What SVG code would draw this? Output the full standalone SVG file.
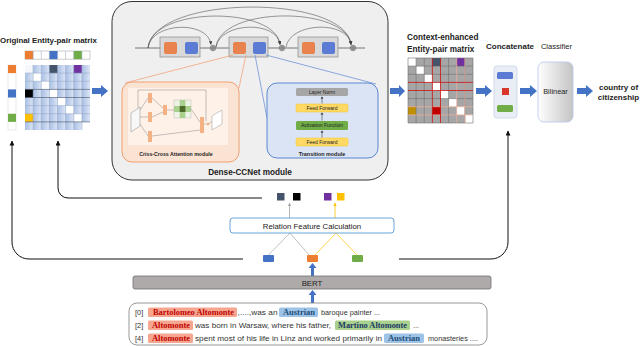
<svg xmlns="http://www.w3.org/2000/svg" width="640" height="346" viewBox="0 0 640 346">
<defs>
<style>
.t{font-family:"Liberation Sans",Arial,sans-serif;fill:#222}
.b{font-weight:bold}
.hl{font-family:"Liberation Serif","Times New Roman",serif;font-weight:bold;font-size:7.8px}
.txt{font-family:"Liberation Sans",Arial,sans-serif;font-size:7.4px;fill:#333}
.ba{fill:#4472c4}
.thin{fill:none;stroke:#111;stroke-width:1}
.arc{fill:none;stroke:#555;stroke-width:0.6}
.cell{fill:none;stroke:#8ea3c4;stroke-width:0.5}
.or{fill:#e8834f}
.bl{fill:#5b7bd5}
.blk{fill:#d9d9d9;stroke:#8a8a8a;stroke-width:0.7}
.ob{fill:#f4b183}
.mini{stroke:#888;stroke-width:0.5;fill:none}
</style>
<marker id="ah" viewBox="0 0 10 10" refX="9" refY="5" markerWidth="5" markerHeight="5" orient="auto"><path d="M0,0 L10,5 L0,10z" fill="#111"/></marker>
<marker id="ahs" viewBox="0 0 10 10" refX="9" refY="5" markerWidth="6" markerHeight="6" orient="auto"><path d="M0,0 L10,5 L0,10z" fill="#444"/></marker>
<marker id="ahg" viewBox="0 0 10 10" refX="9" refY="5" markerWidth="4" markerHeight="4" orient="auto"><path d="M0,0 L10,5 L0,10z" fill="#a6a6a6"/></marker>
<marker id="ahy" viewBox="0 0 10 10" refX="9" refY="5" markerWidth="4" markerHeight="4" orient="auto"><path d="M0,0 L10,5 L0,10z" fill="#ffc000"/></marker>
<linearGradient id="colg" x1="0" y1="0" x2="1" y2="0"><stop offset="0" stop-color="#a9bfe4"/><stop offset="1" stop-color="#dbe5f5"/></linearGradient>
<pattern id="cols" x="25" y="0" width="8.125" height="10" patternUnits="userSpaceOnUse"><rect width="8.125" height="10" fill="url(#colg)"/></pattern>
<linearGradient id="bil" x1="0" y1="0" x2="1" y2="0"><stop offset="0" stop-color="#ffffff"/><stop offset="1" stop-color="#c4c4c4"/></linearGradient>
</defs>
<rect width="640" height="346" fill="#fff"/>

<g id="original-matrix">
<text class="t b" x="0" y="43" font-size="7.9">Original Entity-pair matrix</text>
<g id="top-row">
<rect x="25" y="51" width="65" height="8.125" fill="#fff" stroke="#9a9a9a" stroke-width="0.5"/>
<rect x="25" y="51" width="8.125" height="8.125" fill="#ed7d31"/>
<rect x="49.4" y="51" width="8.125" height="8.125" fill="#4472c4"/>
<rect x="73.75" y="51" width="8.125" height="8.125" fill="#70ad47"/>
<path class="cell" stroke="#aaa" d="M33.1,51V59.1M41.25,51V59.1M49.4,51V59.1M57.5,51V59.1M65.6,51V59.1M73.75,51V59.1M81.9,51V59.1"/>
</g>
<g id="left-col">
<rect x="8" y="65" width="8" height="65" fill="#fff" stroke="#c8c8c8" stroke-width="0.4"/>
<rect x="8" y="65" width="8" height="8.125" fill="#ed7d31"/>
<rect x="8" y="89.4" width="8" height="8.125" fill="#4472c4"/>
<rect x="8" y="113.75" width="8" height="8.125" fill="#70ad47"/>
</g>
<g id="matrix">
<rect x="25" y="65" width="65" height="65" fill="url(#cols)"/>
<rect x="25" y="65" width="8.125" height="8.125" fill="#f4f7fc"/>
<rect x="33.1" y="73.1" width="8.125" height="8.125" fill="#fff"/>
<rect x="41.25" y="81.25" width="8.125" height="8.125" fill="#fff"/>
<rect x="49.4" y="89.4" width="8.125" height="8.125" fill="#fff"/>
<rect x="57.5" y="97.5" width="8.125" height="8.125" fill="#fff"/>
<rect x="65.6" y="105.6" width="8.125" height="8.125" fill="#fff"/>
<rect x="73.75" y="113.75" width="8.125" height="8.125" fill="#fff"/>
<rect x="81.9" y="121.9" width="8.125" height="8.125" fill="#fff"/>
<rect x="49.4" y="65" width="8.125" height="8.125" fill="#44546a"/>
<rect x="73.75" y="65" width="8.125" height="8.125" fill="#7030a0"/>
<rect x="25" y="89.4" width="8.125" height="8.125" fill="#000"/>
<rect x="25" y="113.75" width="8.125" height="8.125" fill="#ffc000"/>
<path class="cell" d="M33.1,65V130M41.25,65V130M49.4,65V130M57.5,65V130M65.6,65V130M73.75,65V130M81.9,65V130M25,73.1H90M25,81.25H90M25,105.6H90M25,113.75H90"/>
<path fill="none" stroke="#44546a" stroke-width="0.6" d="M25,89.4H90M25,97.5H90M25,121.9H90"/>
</g>
</g>

<g id="connectors">
<polygon class="ba" points="92,88 101,88 101,85 108,91 101,97 101,94 92,94"/>
<polygon class="ba" points="390,88 399,88 399,85 405,91 399,97 399,94 390,94"/>
<polygon class="ba" points="476,88 485,88 485,85 492,91 485,97 485,94 476,94"/>
<polygon class="ba" points="520,88 530,88 530,85 537,91 530,97 530,94 520,94"/>
<polygon class="ba" points="577,88 586,88 586,85 593,91 586,97 586,94 577,94"/>
<polygon class="ba" points="311,276 311,268 308.5,268 312.5,263 316.5,268 314,268 314,276"/>
<polygon class="ba" points="311,303 311,295 308.5,295 312.5,290 316.5,295 314,295 314,303"/>
<path class="thin" d="M243,259H29A17,17 0 0 1 12,242V141" marker-end="url(#ah)"/>
<path class="thin" d="M399,259H491A17,17 0 0 0 508,242V131" marker-end="url(#ah)"/>
<path class="thin" d="M262,198H68A10,10 0 0 1 58,188V141" marker-end="url(#ah)"/>
<path fill="none" stroke="#a6a6a6" stroke-width="0.8" d="M289.5,218V203" marker-end="url(#ahg)"/>
<path fill="none" stroke="#ffc000" stroke-width="0.8" d="M335,218V203" marker-end="url(#ahy)"/>
<path fill="none" stroke="#a6a6a6" stroke-width="0.7" d="M268.5,255L290,233L309,255"/>
<path fill="none" stroke="#ffc000" stroke-width="0.7" d="M315,255L336,233L357,255"/>
</g>

<g id="dense-ccnet">
<rect x="112" y="1.5" width="276" height="178.5" rx="20" fill="#efefef" stroke="#333" stroke-width="1"/>
<path d="M135,48H365" stroke="#555" stroke-width="0.8"/>
<path class="arc" d="M148,48C151,22 208,20 211,44.5" marker-end="url(#ahs)"/>
<path class="arc" d="M148,48C152,6 276,6 280,44.5" marker-end="url(#ahs)"/>
<path class="arc" d="M148,48C154,-6 346,-6 351,44.5" marker-end="url(#ahs)"/>
<path class="arc" d="M216,47C220,22 277,20 280,44.5" marker-end="url(#ahs)"/>
<path class="arc" d="M216,47C221,6 346,6 351,44.5" marker-end="url(#ahs)"/>
<path class="arc" d="M286,47C290,22 348,20 351,44.5" marker-end="url(#ahs)"/>
<g id="block1"><rect class="blk" x="160" y="37" width="40" height="20"/><rect class="or" x="164" y="42" width="13" height="12" rx="2"/><rect class="bl" x="185" y="42" width="13" height="12" rx="2"/></g>
<g id="block2"><rect class="blk" x="229" y="37" width="39" height="20"/><rect class="or" x="233" y="42" width="13" height="12" rx="2"/><rect class="bl" x="253" y="42" width="13" height="12" rx="2"/></g>
<g id="block3"><rect class="blk" x="298" y="37" width="40" height="20"/><rect class="or" x="302" y="42" width="13" height="12" rx="2"/><rect class="bl" x="322" y="42" width="13" height="12" rx="2"/></g>
<g fill="#aaa" stroke="#555" stroke-width="0.5">
<circle cx="213" cy="48" r="2.8"/><circle cx="282" cy="48" r="2.8"/><circle cx="353" cy="48" r="2.8"/>
</g>
<path stroke="#555" stroke-width="0.5" d="M211,48h4M213,46v4M280,48h4M282,46v4M351,48h4M353,46v4"/>
<path fill="none" stroke="#f4a47a" stroke-width="0.8" d="M233,55L125,83M246,55L239,88"/>
<path fill="none" stroke="#6f93d8" stroke-width="0.8" d="M255,55L267,118M266,55L376,84"/>
<g id="cca-module">
<rect x="122" y="82" width="117" height="80" rx="10" fill="#fbe3d3" stroke="#f0a070" stroke-width="1"/>
<rect x="128" y="88" width="100" height="57" fill="#fdf1e8"/>
<path class="mini" d="M138,108V90H206V121"/>
<polygon points="131,113 140,107 140,126 131,132" fill="#f7f7f7" stroke="#888" stroke-width="0.5"/>
<path class="mini" d="M140,110L148,98M140,117H148M140,124L148,136M152,98L163,108M152,117L163,112M167,110H174M191,109L200,122M152,136L200,130M204,124H207M209,124L212,121"/>
<rect class="ob" x="148" y="93" width="4" height="10"/>
<rect class="ob" x="148" y="112" width="4" height="10"/>
<rect class="ob" x="148" y="131" width="4" height="11"/>
<rect class="ob" x="163" y="105" width="4" height="10"/>
<rect class="ob" x="200" y="117" width="4" height="16"/>
<circle cx="208" cy="124" r="1.3" fill="#f4b183"/>
<rect x="174" y="100" width="17" height="18" fill="#eef3e8" stroke="#999" stroke-width="0.3"/>
<rect x="179.7" y="100" width="5.7" height="18" fill="#a9d18e"/>
<rect x="174" y="106" width="17" height="6" fill="#a9d18e"/>
<rect x="179.7" y="106" width="5.7" height="6" fill="#4e6b2a"/>
<polygon points="212,116 222,110 222,124 212,130" fill="#fff" stroke="#999" stroke-width="0.5"/>
<text class="t b" x="176" y="156" font-size="5.2" text-anchor="middle" fill="#444">Criss-Cross Attention module</text>
</g>
<g id="transition-module">
<rect x="267" y="83" width="111" height="75" rx="10" fill="#dbe4f4" stroke="#5b87d0" stroke-width="1"/>
<rect x="296" y="88" width="52" height="8" rx="1.5" fill="#a6a6a6"/>
<text class="t" x="322" y="93.8" font-size="5" text-anchor="middle">Layer Norm</text>
<rect x="296" y="104" width="52" height="8" rx="1.5" fill="#ffd966" stroke="#f2c200" stroke-width="0.4"/>
<text class="t" x="322" y="109.8" font-size="5" text-anchor="middle">Feed Forward</text>
<rect x="296" y="121" width="52" height="9" rx="1.5" fill="#70ad47"/>
<text class="t" x="322" y="127.3" font-size="5" text-anchor="middle">Activation Function</text>
<rect x="296" y="138" width="52" height="8" rx="1.5" fill="#ffd966" stroke="#f2c200" stroke-width="0.4"/>
<text class="t" x="322" y="143.8" font-size="5" text-anchor="middle">Feed Forward</text>
<path stroke="#222" stroke-width="0.5" d="M322,103.5V98M322,120.5V114M322,137.5V132"/>
<path fill="#222" d="M320.6,98.5L322,96.5L323.4,98.5zM320.6,114.5L322,112.5L323.4,114.5zM320.6,132.5L322,130.5L323.4,132.5z"/>
<text class="t b" x="322" y="156" font-size="5.4" text-anchor="middle">Transition module</text>
</g>
<text class="t b" x="250" y="175" font-size="8.2" text-anchor="middle">Dense-CCNet module</text>
</g>

<g id="context-matrix">
<text class="t b" x="407" y="40" font-size="8.2">Context-enhanced</text>
<text class="t b" x="407" y="51.5" font-size="8.2">Entity-pair matrix</text>
<rect x="408" y="58" width="65" height="65" fill="#a6a6a6"/>
<rect x="408" y="58" width="8.125" height="8.125" fill="#fff"/>
<rect x="416.1" y="66.1" width="8.125" height="8.125" fill="#fff"/>
<rect x="424.25" y="74.25" width="8.125" height="8.125" fill="#fff"/>
<rect x="432.4" y="82.4" width="8.125" height="8.125" fill="#fff"/>
<rect x="440.5" y="90.5" width="8.125" height="8.125" fill="#fff"/>
<rect x="448.6" y="98.6" width="8.125" height="8.125" fill="#fff"/>
<rect x="456.75" y="106.75" width="8.125" height="8.125" fill="#fff"/>
<rect x="464.9" y="114.9" width="8.125" height="8.125" fill="#fff"/>
<rect x="432.4" y="58" width="8.125" height="8.125" fill="#44546a"/>
<rect x="456.75" y="58" width="8.125" height="8.125" fill="#7030a0"/>
<rect x="408" y="106.75" width="8.125" height="8.125" fill="#bf9000"/>
<rect x="432.4" y="106.75" width="8.125" height="8.125" fill="#c00000"/>
<path fill="none" stroke="#6f6f6f" stroke-width="0.6" d="M416.1,58V123M424.25,58V123M448.6,58V123M464.9,58V123M408,66.1H473M408,74.25H473M408,98.6H473M408,123H473M408,58H473M408,58V123M473,58V123"/>
<path fill="none" stroke="#f4b0a0" stroke-width="0.7" d="M456.75,58V123M464.9,58V123M408,106.75H473M408,114.9H473"/>
<path fill="none" stroke="#d01010" stroke-width="0.8" d="M432.4,58V123M440.5,58V123M408,82.4H473M408,90.5H473"/>
</g>

<g id="concatenate">
<text class="t b" x="510" y="49" font-size="8" text-anchor="middle">Concatenate</text>
<rect x="494" y="66" width="23" height="52" rx="3" fill="#e9edf4" stroke="#c5d3ea" stroke-width="0.8"/>
<rect x="497" y="72" width="16" height="7" rx="1.5" fill="#5b7bd5"/>
<rect x="502" y="88" width="7" height="7" fill="#d9362b"/>
<rect x="497" y="105" width="16" height="7" rx="1.5" fill="#70ad47"/>
</g>

<g id="classifier">
<text class="t" x="556.5" y="49" font-size="7.6" text-anchor="middle">Classifier</text>
<rect x="538" y="62" width="35" height="60" rx="6" fill="url(#bil)" stroke="#b4c7e7" stroke-width="0.8"/>
<text class="t" x="555.5" y="94" font-size="7.4" text-anchor="middle">Bilinear</text>
</g>

<g id="output">
<text class="t b" x="618.5" y="90" font-size="8" text-anchor="middle">country of</text>
<text class="t b" x="618.5" y="100" font-size="8" text-anchor="middle">citizenship</text>
</g>

<g id="relation-features">
<rect x="277" y="193" width="7.5" height="7.5" fill="#44546a"/>
<rect x="293" y="193" width="7.5" height="7.5" fill="#000"/>
<rect x="324" y="193" width="7.5" height="7.5" fill="#7030a0"/>
<rect x="337" y="193" width="7.5" height="7.5" fill="#ffc000"/>
</g>

<g id="relation-feature-calculation">
<rect x="230" y="218" width="164" height="15" rx="3" fill="#fff" stroke="#5b9bd5" stroke-width="0.9"/>
<text class="t" x="312" y="228.5" font-size="7.8" text-anchor="middle">Relation Feature Calculation</text>
</g>

<g id="entity-embeddings">
<rect x="263" y="255" width="11" height="7" rx="1" fill="#4472c4"/>
<rect x="307" y="255" width="11" height="7" rx="1" fill="#ed7d31"/>
<rect x="352" y="255" width="11" height="7" rx="1" fill="#70ad47"/>
</g>

<g id="bert">
<rect x="133" y="276" width="358" height="13" rx="2" fill="#aeaaaa" stroke="#6f6f6f" stroke-width="0.8"/>
<text class="t" x="312" y="285.5" font-size="7.8" text-anchor="middle">BERT</text>
</g>

<g id="document">
<rect x="129" y="303" width="358" height="42" rx="8" fill="#fff" stroke="#7f7f7f" stroke-width="0.8"/>
<rect x="148" y="307.5" width="89" height="9.5" rx="1.5" fill="#f6a68f"/>
<rect x="279" y="307.5" width="39" height="9.5" rx="1.5" fill="#9dc3e6"/>
<rect x="148" y="320.5" width="45" height="9.5" rx="1.5" fill="#f6a68f"/>
<rect x="335" y="320.5" width="75" height="9.5" rx="1.5" fill="#a9d18e"/>
<rect x="148" y="333.5" width="45" height="9.5" rx="1.5" fill="#f6a68f"/>
<rect x="384" y="333.5" width="40" height="9.5" rx="1.5" fill="#9dc3e6"/>
<text class="txt" x="135" y="315">[0]</text>
<text class="hl" x="153" y="315" fill="#c00000" textLength="81" lengthAdjust="spacingAndGlyphs">Bartolomeo Altomonte</text>
<text class="txt" x="237.5" y="315" textLength="40" lengthAdjust="spacingAndGlyphs">,....,was an</text>
<text class="hl" x="283" y="315" fill="#1f4e79" textLength="32" lengthAdjust="spacingAndGlyphs">Austrian</text>
<text class="txt" x="321" y="315" textLength="59" lengthAdjust="spacingAndGlyphs">baroque painter ...</text>
<text class="txt" x="135" y="328">[2]</text>
<text class="hl" x="152" y="328" fill="#c00000" textLength="38" lengthAdjust="spacingAndGlyphs">Altomonte</text>
<text class="txt" x="195" y="328" textLength="136" lengthAdjust="spacingAndGlyphs">was born in Warsaw, where his father,</text>
<text class="hl" x="338" y="328" fill="#203864" textLength="69" lengthAdjust="spacingAndGlyphs">Martino Altomonte</text>
<text class="txt" x="413" y="328">...</text>
<text class="txt" x="135" y="341">[4]</text>
<text class="hl" x="152" y="341" fill="#c00000" textLength="38" lengthAdjust="spacingAndGlyphs">Altomonte</text>
<text class="txt" x="195" y="341" textLength="187" lengthAdjust="spacingAndGlyphs">spent most of his life in Linz and worked primarily in</text>
<text class="hl" x="388" y="341" fill="#1f4e79" textLength="32" lengthAdjust="spacingAndGlyphs">Austrian</text>
<text class="txt" x="428" y="341" textLength="50" lengthAdjust="spacingAndGlyphs">monasteries ....</text>
</g>
</svg>
